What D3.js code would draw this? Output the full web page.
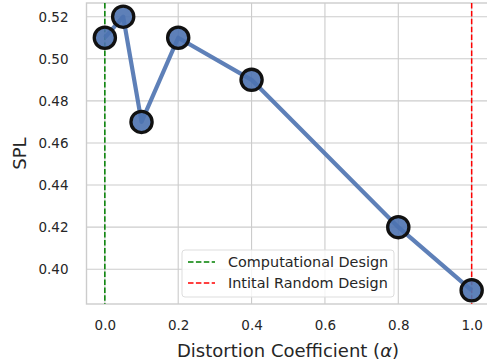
<!DOCTYPE html>
<html>
<head>
<meta charset="utf-8">
<script src="https://cdn.jsdelivr.net/npm/d3@7"></script>
<style>
  body { margin: 0; background: #fff; }
  text { font-family: "DejaVu Sans", sans-serif; fill: #262626; }
</style>
</head>
<body>
<div id="chart"></div>
<script>
// values
var alphas = [0, 0.05, 0.1, 0.2, 0.4, 0.8, 1.0];
var spl = [0.51, 0.52, 0.47, 0.51, 0.49, 0.42, 0.39];
var xTicks = [0, 0.2, 0.4, 0.6, 0.8, 1.0];
var yTicks = [0.40, 0.42, 0.44, 0.46, 0.48, 0.50, 0.52];
var refLines = [
  { x: 0, label: "Computational Design", color: "#008000" },
  { x: 1, label: "Intital Random Design", color: "#ff0000" }
];

var width = 487, height = 364;
// plot box (note: "top" is reserved on window, so use m.*)
var m = { left: 86.5, top: 3, right: 490, bottom: 304 };

var svg = d3.select("#chart").append("svg")
    .attr("width", width)
    .attr("height", height);

var x = d3.scaleLinear().domain([-0.05, 1.05]).range([m.left, m.right]);
var y = d3.scaleLinear().domain([0.3835, 0.5265]).range([m.bottom, m.top]);

// grid
var g = svg.append("g");
g.selectAll(".gx").data(xTicks).enter().append("line")
    .attr("x1", function(d){ return x(d); }).attr("x2", function(d){ return x(d); })
    .attr("y1", m.top).attr("y2", m.bottom)
    .attr("stroke", "#cccccc").attr("stroke-width", 1.1);
g.selectAll(".gy").data(yTicks).enter().append("line")
    .attr("x1", m.left).attr("x2", m.right)
    .attr("y1", function(d){ return y(d); }).attr("y2", function(d){ return y(d); })
    .attr("stroke", "#cccccc").attr("stroke-width", 1.1);

// spines
svg.append("rect")
    .attr("x", m.left).attr("y", m.top)
    .attr("width", m.right - m.left).attr("height", m.bottom - m.top)
    .attr("fill", "none").attr("stroke", "#cccccc").attr("stroke-width", 1.4);

// axes
var xAxis = d3.axisBottom(x).tickValues(xTicks).tickSize(0).tickPadding(16)
    .tickFormat(d3.format(".1f"));
var yAxis = d3.axisLeft(y).tickValues(yTicks).tickSize(0).tickPadding(18)
    .tickFormat(d3.format(".2f"));

svg.append("g").attr("transform", "translate(0," + m.bottom + ")").call(xAxis)
  .call(function(s){ s.select(".domain").remove(); })
  .selectAll("text").style("font-size", "13.5px").style("fill", "#262626");
svg.append("g").attr("transform", "translate(" + m.left + ",0)").call(yAxis)
  .call(function(s){ s.select(".domain").remove(); })
  .selectAll("text").style("font-size", "13.5px").style("fill", "#262626");

svg.append("text")
    .attr("x", 288).attr("y", 357)
    .attr("text-anchor", "middle").style("font-size", "18px")
    .html("Distortion Coefficient (<tspan font-style='italic'>α</tspan>)");

svg.append("text")
    .attr("transform", "translate(26," + ((m.top + m.bottom) / 2) + ") rotate(-90)")
    .attr("text-anchor", "middle").style("font-size", "18px")
    .text("SPL");

// reference lines
svg.selectAll(".ref").data(refLines).enter().append("line")
    .attr("x1", function(d){ return x(d.x); }).attr("x2", function(d){ return x(d.x); })
    .attr("y1", m.top).attr("y2", m.bottom)
    .attr("stroke", function(d){ return d.color; })
    .attr("stroke-width", 1.5)
    .attr("stroke-dasharray", "5.5,2.4");

// data line + markers
var pts = alphas.map(function(a, i){ return [a, spl[i]]; });
var line = d3.line().x(function(d){ return x(d[0]); }).y(function(d){ return y(d[1]); });

svg.append("path").datum(pts)
    .attr("d", line)
    .attr("fill", "none")
    .attr("stroke", "#4c72b0").attr("stroke-opacity", 0.9)
    .attr("stroke-width", 4.2)
    .attr("stroke-linejoin", "round");

svg.selectAll(".pt").data(pts).enter().append("circle")
    .attr("cx", function(d){ return x(d[0]); })
    .attr("cy", function(d){ return y(d[1]); })
    .attr("r", 10.6)
    .attr("fill", "#4c72b0").attr("fill-opacity", 0.9)
    .attr("stroke", "#111111").attr("stroke-width", 3.3);

// legend
var lg = svg.append("g").attr("transform", "translate(182,250)");
lg.append("rect")
    .attr("width", 212).attr("height", 47).attr("rx", 3)
    .attr("fill", "#ffffff").attr("fill-opacity", 0.8)
    .attr("stroke", "#dddddd").attr("stroke-width", 1);
var items = lg.selectAll(".item").data(refLines).enter().append("g")
    .attr("transform", function(d, i){ return "translate(0," + (12 + i * 21) + ")"; });
items.append("line")
    .attr("x1", 6).attr("x2", 33).attr("y1", 0).attr("y2", 0)
    .attr("stroke", function(d){ return d.color; })
    .attr("stroke-width", 1.5)
    .attr("stroke-dasharray", "5.5,2.4");
items.append("text")
    .attr("x", 46).attr("y", 5)
    .style("font-size", "14.4px")
    .text(function(d){ return d.label; });
</script>
</body>
</html>
